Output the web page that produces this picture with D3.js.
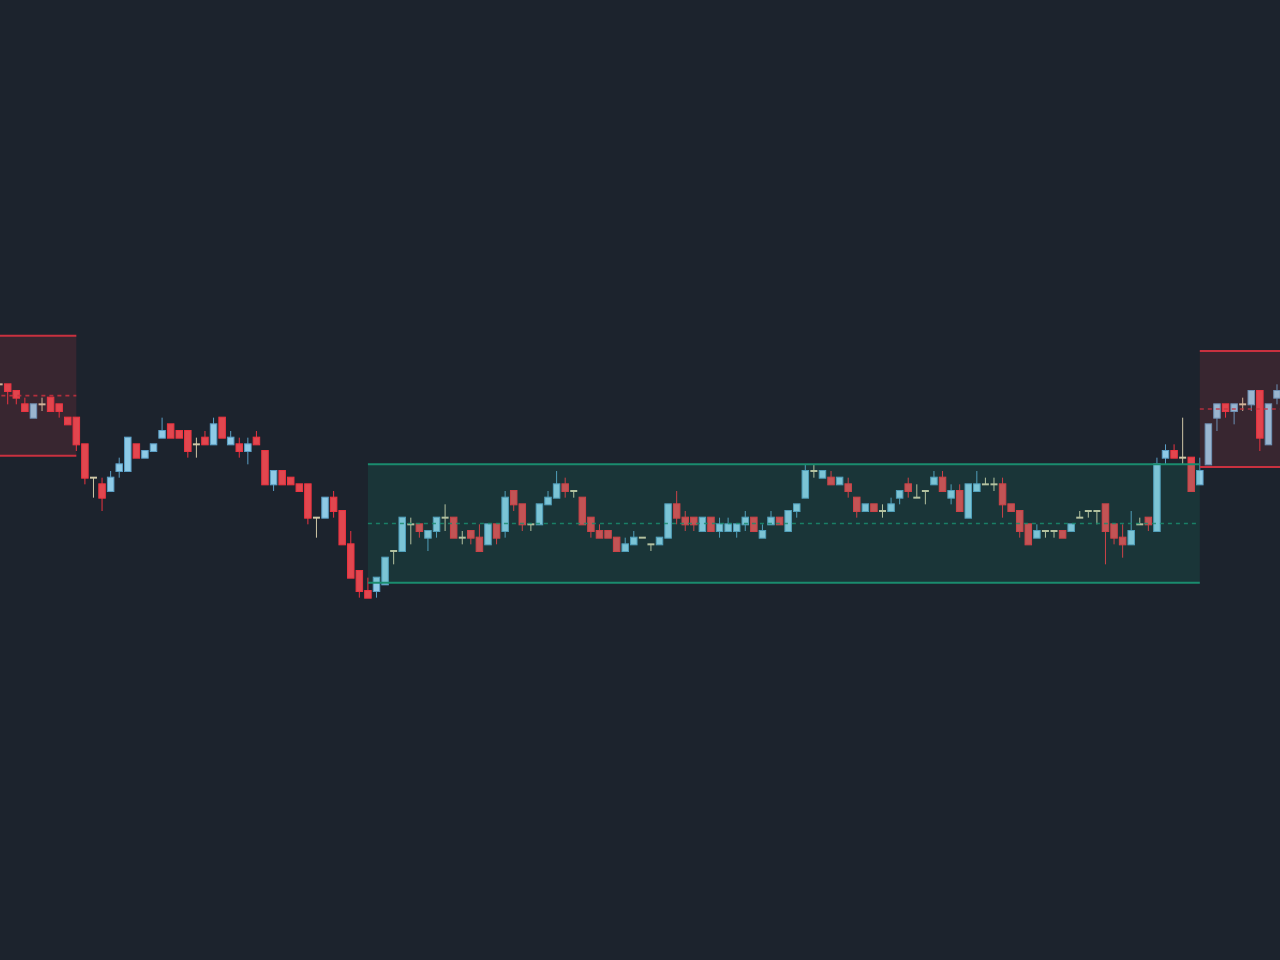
<!DOCTYPE html>
<html>
<head>
<meta charset="utf-8">
<script src="https://cdn.jsdelivr.net/npm/d3@7"></script>
<style>
  html, body { margin: 0; padding: 0; background: #1c232d; overflow: hidden; }
  svg { display: block; }
</style>
</head>
<body>
<svg id="chart"></svg>
<script>
// OHLC per bar (price in ticks)
var opens = [112,112,111,109,107,109,110,109,107,107,
             103,98,97,96,99,99,103,101,102,104,
             106,105,105,103,104,103,107,103,103,102,
             104,102,97,99,98,97,97,92,92,95,
             93,88,84,81,81,82,87,87,91,91,
             89,90,92,92,89,90,89,88,91,90,
             96,94,91,91,94,95,97,96,95,92,
             90,90,89,87,88,89,88,88,89,94,
             92,92,90,92,90,90,90,91,92,89,
             91,92,90,93,95,99,98,98,97,97,
             95,93,94,93,93,95,97,95,96,97,
             98,95,96,92,96,97,97,97,94,93,
             91,89,90,90,90,90,92,93,93,94,
             91,89,88,91,92,90,101,102,101,101,
             97,100,107,109,108,109,109,111,103,110];
var highs = [112,112,111,110,109,110,110,109,107,107,
             103,98,98,99,101,104,103,102,103,107,
             106,105,105,104,105,107,107,105,104,104,
             105,102,99,99,98,97,97,92,95,96,
             93,90,84,83,83,86,87,92,92,91,
             90,92,94,92,90,90,91,91,91,96,
             96,94,91,94,96,99,98,96,95,92,
             91,90,89,89,90,89,88,89,94,96,
             93,92,92,92,92,92,91,93,92,91,
             93,92,93,94,100,100,99,99,98,98,
             95,94,94,94,95,96,98,97,96,99,
             99,97,97,97,99,98,98,98,94,93,
             91,91,90,90,90,91,93,93,93,94,
             91,91,93,92,92,101,103,103,107,101,
             101,106,109,109,109,110,111,111,109,112];
var lows = [112,109,109,108,107,108,108,107,106,102,
            97,95,93,96,98,99,101,101,102,104,
            104,104,101,101,103,103,104,103,101,100,
            103,97,96,97,97,96,91,89,92,92,
            88,83,80,80,80,82,85,87,88,89,
            87,89,90,89,88,88,87,88,88,89,
            93,90,90,91,94,95,95,95,91,89,
            89,89,87,87,88,89,87,88,89,91,
            90,90,90,90,89,90,89,90,90,89,
            91,91,90,92,95,98,98,97,97,95,
            92,93,93,92,93,94,95,95,94,97,
            96,94,93,92,96,97,96,92,93,89,
            88,89,89,89,89,90,92,92,91,85,
            88,86,88,91,90,90,100,101,100,96,
            97,100,105,107,106,108,108,102,103,109];
var closes = [112,111,110,108,109,109,108,108,106,103,
              98,98,95,98,100,104,101,102,103,105,
              104,104,102,103,103,106,104,104,102,103,
              103,97,99,97,97,96,92,92,95,93,
              88,83,81,80,83,86,87,92,91,90,
              90,92,92,89,89,89,87,91,89,95,
              94,91,91,94,95,97,96,96,91,90,
              89,89,87,88,89,89,88,89,94,92,
              91,91,92,90,91,91,91,92,90,90,
              92,91,93,94,99,99,99,97,98,96,
              93,94,93,93,94,96,96,95,96,98,
              96,96,93,97,97,97,97,94,93,90,
              88,90,90,90,89,91,92,93,93,90,
              89,88,90,91,91,100,102,101,101,96,
              99,106,109,108,109,109,111,104,109,111];

// zones: start bar, end bar, top, bottom, kind
var zoneStart  = [-10, 43, 140];
var zoneEnd    = [9, 140, 160];
var zoneTop    = [119.3, 100, 117];
var zoneBottom = [101.3, 82.25, 99.6];
var zoneKind   = ['supply', 'range', 'supply'];

var width = 1280, height = 960;

var colors = {
  bg: '#1c232d',
  upFill: '#8ecae6', upLine: '#5b9fc6',
  downFill: '#e1474f', downLine: '#ec3340',
  doji: '#cfc7a6',
  range: '#13a07c', rangeLine: '#1a8c6e',
  supply: '#e63946', supplyLine: '#c9313f'
};

var bars = opens.map(function(o, i) {
  return { i: i, o: o, h: highs[i], l: lows[i], c: closes[i] };
});

var svg = d3.select('#chart')
  .attr('width', width)
  .attr('height', height);

svg.append('rect')
  .attr('width', width)
  .attr('height', height)
  .attr('fill', colors.bg);

var x = d3.scaleLinear().domain([0.1, 149.35]).range([0, width]);
var y = d3.scaleLinear().domain([25.65, 169.65]).range([height, 0]);

var bodyW = 6.5;

var candles = svg.append('g').attr('class', 'candles');

var g = candles.selectAll('g')
  .data(bars)
  .enter().append('g');

// wicks
g.append('line')
  .attr('x1', function(d){ return x(d.i); })
  .attr('x2', function(d){ return x(d.i); })
  .attr('y1', function(d){ return y(d.h); })
  .attr('y2', function(d){ return y(d.l); })
  .attr('stroke', function(d){
    if (d.c > d.o) return colors.upLine;
    if (d.c < d.o) return colors.downLine;
    return colors.doji;
  })
  .attr('stroke-width', 1);

// bodies
g.filter(function(d){ return d.c !== d.o; })
  .append('rect')
  .attr('x', function(d){ return x(d.i) - bodyW / 2; })
  .attr('width', bodyW)
  .attr('y', function(d){ return y(Math.max(d.o, d.c)) - 0.5; })
  .attr('height', function(d){ return y(Math.min(d.o, d.c)) - y(Math.max(d.o, d.c)) + 1; })
  .attr('fill', function(d){ return d.c > d.o ? colors.upFill : colors.downFill; })
  .attr('stroke', function(d){ return d.c > d.o ? colors.upLine : colors.downLine; })
  .attr('stroke-width', 1);

// doji ticks
g.filter(function(d){ return d.c === d.o; })
  .append('line')
  .attr('x1', function(d){ return x(d.i) - 3.5; })
  .attr('x2', function(d){ return x(d.i) + 3.5; })
  .attr('y1', function(d){ return y(d.o); })
  .attr('y2', function(d){ return y(d.o); })
  .attr('stroke', colors.doji)
  .attr('stroke-width', 2);

// zones drawn on top, translucent
var zones = zoneStart.map(function(s, k) {
  return { s: s, e: zoneEnd[k], top: zoneTop[k], bot: zoneBottom[k], kind: zoneKind[k] };
});

var zg = svg.append('g').attr('class', 'zones')
  .selectAll('g')
  .data(zones)
  .enter().append('g');

zg.append('rect')
  .attr('x', function(d){ return x(d.s); })
  .attr('width', function(d){ return x(d.e) - x(d.s); })
  .attr('y', function(d){ return y(d.top); })
  .attr('height', function(d){ return y(d.bot) - y(d.top); })
  .attr('fill', function(d){ return d.kind === 'range' ? colors.range : colors.supply; })
  .attr('fill-opacity', function(d){ return d.kind === 'range' ? 0.15 : 0.14; });

// top / bottom border lines
['top', 'bot'].forEach(function(edge) {
  zg.append('line')
    .attr('x1', function(d){ return x(d.s); })
    .attr('x2', function(d){ return x(d.e); })
    .attr('y1', function(d){ return y(d[edge]); })
    .attr('y2', function(d){ return y(d[edge]); })
    .attr('stroke', function(d){ return d.kind === 'range' ? colors.rangeLine : colors.supplyLine; })
    .attr('stroke-width', 2);
});

// midline (dashed)
zg.append('line')
  .attr('x1', function(d){ return x(d.s); })
  .attr('x2', function(d){ return x(d.e); })
  .attr('y1', function(d){ return y((d.top + d.bot) / 2); })
  .attr('y2', function(d){ return y((d.top + d.bot) / 2); })
  .attr('stroke', function(d){ return d.kind === 'range' ? colors.rangeLine : colors.supplyLine; })
  .attr('stroke-opacity', 0.85)
  .attr('stroke-width', 1.6)
  .attr('stroke-dasharray', '4,4');
</script>
</body>
</html>
